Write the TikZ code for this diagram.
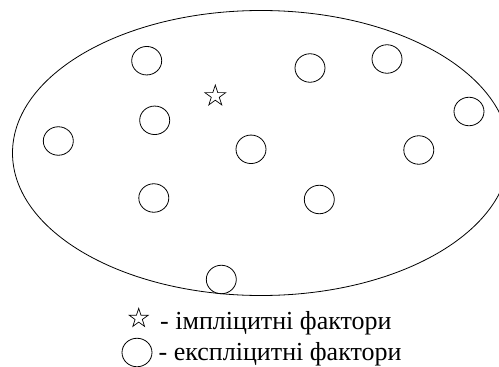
\documentclass[tikz,border=0pt]{standalone}
\usepackage{fontspec}
\setmainfont{Liberation Serif}
\usepackage{tikz}
\usetikzlibrary{shapes.geometric}

\tikzset{
  factor/.style={draw, ellipse, line width=0.8pt, inner sep=0pt, minimum width=30pt, minimum height=28.5pt},
  hidden/.style={draw, star, star points=5, star point ratio=2.618, line width=0.7pt, inner sep=0pt},
  legendtext/.style={anchor=base west, inner sep=0pt, font=\fontsize{26}{30}\selectfont}
}

\begin{document}
\begin{tikzpicture}[x=1pt,y=-1pt]
\useasboundingbox (0,0) rectangle (499,367);
\clip (0,0) rectangle (499,367);
% the set
\draw [line width=0.8pt] (261,153) ellipse (248.5 and 142.5);
% explicit factors
\node [factor] (f1) at (146.7,60.7) {};
\node [factor] (f2) at (310,68) {};
\node [factor] (f3) at (387,59) {};
\node [factor] (f4) at (469,111.5) {};
\node [factor] (f5) at (154.7,120.3) {};
\node [factor] (f6) at (58.3,141) {};
\node [factor] (f7) at (251,149.3) {};
\node [factor] (f8) at (418.8,150) {};
\node [factor] (f9) at (153.8,198) {};
\node [factor] (f10) at (319.3,199.5) {};
\node [factor] (f11) at (221.3,279.5) {};
% implicit factor
\node [hidden, minimum size=22pt] (s1) at (215.3,96) {};
% legend
\node [hidden, minimum size=20pt] (ls) at (138.7,318.3) {};
\node [legendtext] (limpl) at (160,329) {- імпліцитні фактори};
\node [factor] (lc) at (137,352.5) {};
\node [legendtext] (lexpl) at (158.5,360.5) {- експліцитні фактори};
\end{tikzpicture}
\end{document}
